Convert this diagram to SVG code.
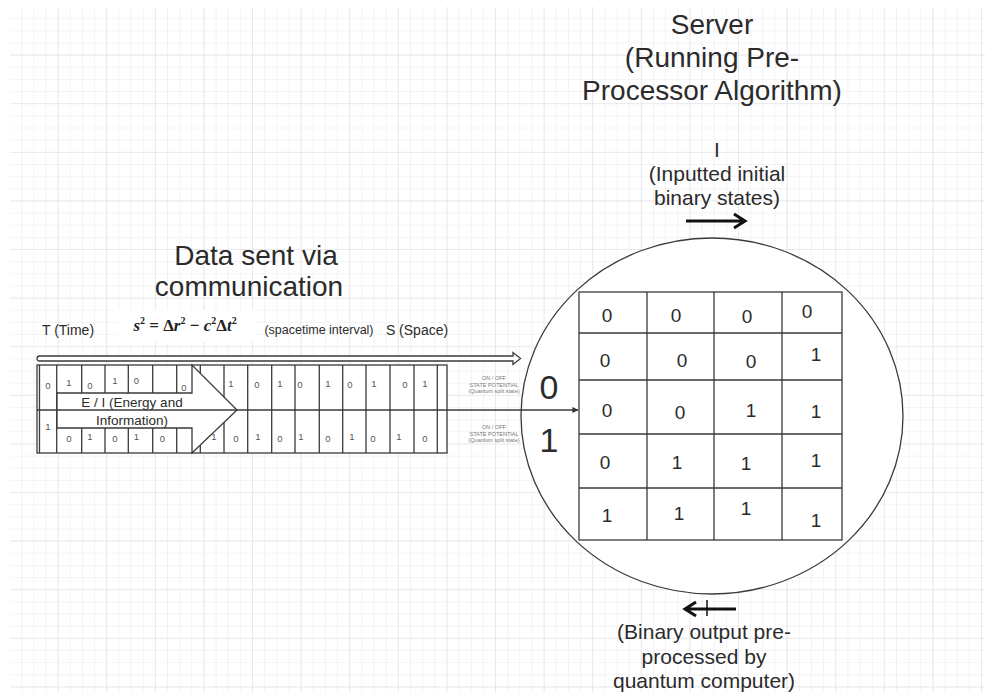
<svg xmlns="http://www.w3.org/2000/svg" width="989" height="698" viewBox="0 0 989 698">
  <defs>
    <pattern id="minor" x="10" y="7" width="12.15" height="12.15" patternUnits="userSpaceOnUse">
      <path d="M12.15 0 V12.15 M0 12.15 H12.15" fill="none" stroke="#e9e9ee" stroke-width="1"/>
    </pattern>
    <pattern id="major" x="10" y="7" width="48.6" height="48.6" patternUnits="userSpaceOnUse">
      <path d="M48.6 0 V48.6 M0 48.6 H48.6" fill="none" stroke="#dedee4" stroke-width="1"/>
    </pattern>
    <marker id="tip" viewBox="0 0 8 8" refX="7.5" refY="4" markerWidth="6" markerHeight="6" orient="auto" markerUnits="userSpaceOnUse">
      <path d="M0 0 L8 4 L0 8 Z" fill="#333"/>
    </marker>
    <style>
      .t { font-family: "Liberation Sans", Arial, sans-serif; fill: #2b2b2b; text-anchor: middle; }
      .big { font-size: 28px; }
      .lab { font-size: 21px; }
      .mid { font-size: 14px; }
      .bit { font-size: 9.5px; fill: #555; }
      .cell { font-size: 19px; }
      .tiny { font-size: 5.5px; fill: #777; }
      .edge { fill: none; stroke: #3a3a3a; stroke-width: 1.3; }
      .box { fill: #fff; stroke: #3a3a3a; stroke-width: 1.3; }
    </style>
  </defs>

  <!-- paper grid -->
  <rect width="989" height="698" fill="#fff"/>
  <rect x="10" y="7" width="975" height="685" fill="url(#minor)"/>
  <rect x="10" y="7" width="975" height="685" fill="url(#major)"/>

  <!-- headings -->
  <g id="server-title">
    <text class="t big" x="712" y="34">Server</text>
    <text class="t big" x="712" y="67">(Running Pre-</text>
    <text class="t big" x="712" y="100">Processor Algorithm)</text>
  </g>
  <g id="input-label">
    <text class="t lab" x="717" y="157">I</text>
    <text class="t lab" x="717" y="181">(Inputted initial</text>
    <text class="t lab" x="717" y="205">binary states)</text>
  </g>
  <g id="data-title">
    <text class="t big" x="256" y="265">Data sent via</text>
    <text class="t big" x="249" y="296">communication</text>
  </g>
  <g id="output-label">
    <text class="t lab" x="704" y="639">(Binary output pre-</text>
    <text class="t lab" x="704" y="664">processed by</text>
    <text class="t lab" x="704" y="688">quantum computer)</text>
  </g>

  <!-- spacetime axis labels -->
  <g id="axis-labels">
    <text class="t mid" x="68" y="335">T (Time)</text>
    <rect x="118" y="310" width="138" height="32" fill="#fff"/>
    <text x="185" y="331" text-anchor="middle" font-family="Liberation Serif, serif" font-size="17" font-weight="bold" fill="#222"><tspan font-style="italic">s</tspan><tspan font-size="10" dy="-7">2</tspan><tspan dy="7"> = Δ</tspan><tspan font-style="italic">r</tspan><tspan font-size="10" dy="-7">2</tspan><tspan dy="7"> − </tspan><tspan font-style="italic">c</tspan><tspan font-size="10" dy="-7">2</tspan><tspan dy="7">Δ</tspan><tspan font-style="italic">t</tspan><tspan font-size="10" dy="-7">2</tspan></text>
    <text class="t" x="319" y="334" font-size="12.5">(spacetime interval)</text>
    <text class="t mid" x="417" y="335">S (Space)</text>
  </g>

  <!-- hollow time-to-space arrow -->
  <g id="space-arrow">
    <path class="box" d="M39.5 356 H513 V352.5 L520.5 358.5 L513 364.5 V361 H39.5 A2.5 2.5 0 0 1 39.5 356 Z"/>
  </g>

  <!-- bit strip -->
  <g id="bit-strip">
    <rect class="box" x="37" y="365" width="410" height="88"/>
    <path class="edge" d="M39.5 365 V453"/>
    <path class="edge" d="M56.7 365 V453"/>
    <!-- cells left of the E/I arrow -->
    <path class="edge" d="M81.7 365 V393 M105 365 V393 M128.3 365 V393 M152.7 365 V393 M176.7 365 V393 M200.3 365 V375"/>
    <path class="edge" d="M81.7 428 V453 M105 428 V453 M128.3 428 V453 M152.7 428 V453 M176.7 428 V453 M200.3 445 V453"/>
    <!-- cells right of the E/I arrow -->
    <path class="edge" d="M224 365 V453 M247.7 365 V453 M271.7 365 V453 M295 365 V453 M319.3 365 V453 M342.7 365 V453 M366 365 V453 M390 365 V453 M414 365 V453 M437.3 365 V453"/>

    <g class="t bit">
      <text x="48" y="389">0</text>
      <text x="48" y="430">1</text>
      <text x="69" y="386">1</text>
      <text x="90" y="389">0</text>
      <text x="115" y="384">1</text>
      <text x="136.5" y="384">0</text>
      <text x="184" y="391">0</text>
      <text x="69" y="442">0</text>
      <text x="90" y="440">1</text>
      <text x="115" y="442">0</text>
      <text x="136.5" y="440">1</text>
      <text x="162.5" y="442">0</text>

      <text x="231" y="387">1</text>
      <text x="257" y="388">0</text>
      <text x="280" y="387">1</text>
      <text x="300" y="388">0</text>
      <text x="328" y="387">1</text>
      <text x="350" y="388">0</text>
      <text x="374" y="387">1</text>
      <text x="405" y="388">0</text>
      <text x="425" y="387">1</text>

      <text x="214" y="440">1</text>
      <text x="236" y="442">0</text>
      <text x="258" y="440">1</text>
      <text x="280" y="442">0</text>
      <text x="301" y="440">1</text>
      <text x="328" y="442">0</text>
      <text x="352" y="440">1</text>
      <text x="373" y="442">0</text>
      <text x="399" y="440">1</text>
      <text x="425" y="442">0</text>
    </g>
  </g>

  <!-- energy / information arrow -->
  <g id="ei-arrow">
    <path class="box" d="M57 393 H192 V365 L237 410 L192 453 V428 H57 Z"/>
    <text class="t" x="132" y="407" font-size="13.5">E / I (Energy and</text>
    <text class="t" x="132" y="425" font-size="13.5">Information)</text>
  </g>

  <!-- state potential notes -->
  <g id="state-notes" class="t tiny">
    <text x="494" y="380">ON / OFF</text>
    <text x="494" y="386.5">STATE POTENTIAL</text>
    <text x="494" y="393">(Quantum split state)</text>
    <text x="494" y="429">ON / OFF</text>
    <text x="494" y="435.5">STATE POTENTIAL</text>
    <text x="494" y="442">(Quantum split state)</text>
  </g>

  <!-- server -->
  <g id="server">
    <ellipse class="box" cx="712" cy="416" rx="191" ry="178"/>
    <text class="t" x="549" y="399" font-size="34">0</text>
    <text class="t" x="549" y="452" font-size="34">1</text>
  </g>

  <!-- binary state table -->
  <g id="state-table">
    <rect class="box" x="579" y="292" width="263" height="248" stroke-width="1.6"/>
    <path class="edge" stroke-width="1.6" d="M647 292 V540 M714 292 V540 M782 292 V540 M579 333 H842 M579 380 H842 M579 434 H842 M579 488 H842"/>
    <g class="t cell">
      <text x="607" y="322">0</text>
      <text x="676" y="322">0</text>
      <text x="747" y="323">0</text>
      <text x="807" y="318">0</text>
      <text x="605" y="367">0</text>
      <text x="682" y="367">0</text>
      <text x="751" y="368">0</text>
      <text x="816" y="361">1</text>
      <text x="607" y="417">0</text>
      <text x="680" y="419">0</text>
      <text x="751" y="417">1</text>
      <text x="816" y="418">1</text>
      <text x="605" y="469">0</text>
      <text x="677" y="469">1</text>
      <text x="746" y="470">1</text>
      <text x="816" y="467">1</text>
      <text x="607" y="522">1</text>
      <text x="679" y="520">1</text>
      <text x="746" y="515">1</text>
      <text x="816" y="527">1</text>
    </g>
  </g>

  <!-- connectors -->
  <g id="connectors">
    <path class="edge" d="M37 410 H578" marker-end="url(#tip)"/>
    <path d="M686 221 H744 M734 214 L745 221 L734 228" fill="none" stroke="#111" stroke-width="3"/>
    <path d="M736 609 H686 M696 602 L685 609 L696 616" fill="none" stroke="#111" stroke-width="3"/>
    <path d="M707 600 V616" stroke="#111" stroke-width="1.5"/>
  </g>
</svg>
